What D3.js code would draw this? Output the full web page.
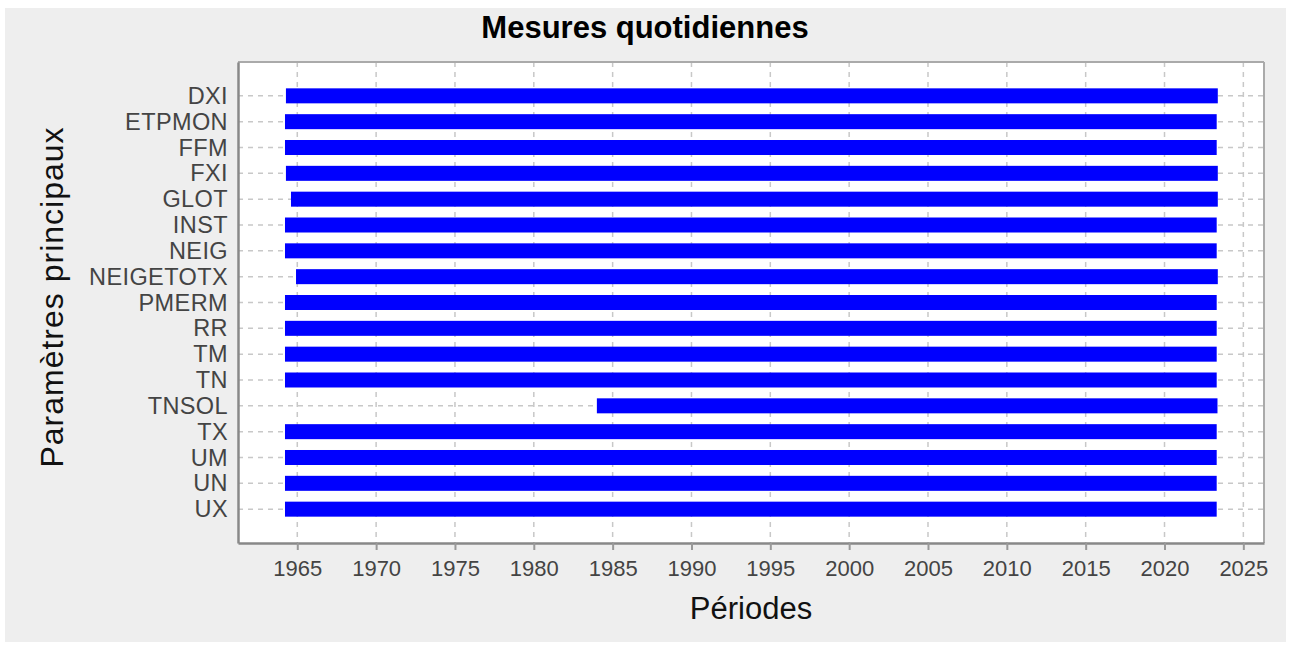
<!DOCTYPE html>
<html>
<head>
<meta charset="utf-8">
<script src="https://cdn.jsdelivr.net/npm/d3@7"></script>
<style>
  html, body { margin: 0; padding: 0; background: #ffffff; }
  svg { display: block; }
  text { font-family: "Liberation Sans", Arial, sans-serif; }
</style>
</head>
<body>
<svg id="chart" width="1289" height="645"></svg>
<script>
// ---- data ----
const categories = ["DXI", "ETPMON", "FFM", "FXI", "GLOT", "INST", "NEIG", "NEIGETOTX",
  "PMERM", "RR", "TM", "TN", "TNSOL", "TX", "UM", "UN", "UX"];
const startYears = [1964.28, 1964.22, 1964.22, 1964.28, 1964.60, 1964.22, 1964.22, 1964.92,
  1964.22, 1964.22, 1964.22, 1964.22, 1984.00, 1964.22, 1964.22, 1964.22, 1964.22];
const endYears = [2023.38, 2023.31, 2023.31, 2023.38, 2023.38, 2023.31, 2023.31, 2023.38,
  2023.31, 2023.31, 2023.31, 2023.31, 2023.36, 2023.31, 2023.31, 2023.31, 2023.31];
const xTicks = [1965, 1970, 1975, 1980, 1985, 1990, 1995, 2000, 2005, 2010, 2015, 2020, 2025];
const xDomain = [1961.24, 2026.31];
const titleText = "Mesures quotidiennes";
const xLabel = "Périodes";
const yLabel = "Paramètres principaux";

// ---- layout ----
const plot = { left: 238, top: 62, right: 1264, bottom: 543 };
const svg = d3.select("#chart");

svg.append("rect").attr("x", 5).attr("y", 8).attr("width", 1281).attr("height", 634)
  .attr("fill", "#eeeeee");

svg.append("rect").attr("x", plot.left).attr("y", plot.top)
  .attr("width", plot.right - plot.left).attr("height", plot.bottom - plot.top)
  .attr("fill", "#ffffff");

const x = d3.scaleLinear().domain(xDomain).range([plot.left, plot.right]);
const y = d3.scalePoint().domain(categories).range([plot.top, plot.bottom]).padding(1.31);

const data = categories.map((c, i) => ({ cat: c, start: startYears[i], end: endYears[i] }));

// gridlines
const grid = svg.append("g").attr("stroke", "#c8c8c8").attr("stroke-width", 1.5)
  .attr("stroke-dasharray", "5,5");
grid.selectAll("line.v").data(xTicks).join("line").attr("class", "v")
  .attr("x1", d => x(d)).attr("x2", d => x(d))
  .attr("y1", plot.top).attr("y2", plot.bottom);
grid.selectAll("line.h").data(categories).join("line").attr("class", "h")
  .attr("x1", plot.left).attr("x2", plot.right)
  .attr("y1", d => y(d)).attr("y2", d => y(d));

// bars
const barH = 15;
svg.append("g").selectAll("rect").data(data).join("rect")
  .attr("x", d => x(d.start))
  .attr("width", d => x(d.end) - x(d.start))
  .attr("y", d => y(d.cat) - barH / 2)
  .attr("height", barH)
  .attr("fill", "#0000ff");

// plot outline
svg.append("line").attr("x1", plot.left).attr("x2", plot.right).attr("y1", plot.top).attr("y2", plot.top)
  .attr("stroke", "#aaaaaa").attr("stroke-width", 2);
svg.append("line").attr("x1", plot.right).attr("x2", plot.right).attr("y1", plot.top).attr("y2", plot.bottom)
  .attr("stroke", "#aaaaaa").attr("stroke-width", 2);

// x axis
const xAxis = d3.axisBottom(x).tickValues(xTicks).tickFormat(d3.format("d"))
  .tickSizeInner(7).tickSizeOuter(0).tickPadding(10);
const gx = svg.append("g").attr("transform", `translate(0,${plot.bottom})`).call(xAxis);
gx.select(".domain").attr("stroke", "#888888").attr("stroke-width", 2.5);
gx.selectAll(".tick line").attr("stroke", "#999999").attr("stroke-width", 2);
gx.selectAll(".tick text").attr("fill", "#444444").style("font-size", "22px")
  .attr("font-family", "Liberation Sans, Arial, sans-serif");

// y axis
const yAxis = d3.axisLeft(y).tickSize(0).tickPadding(10);
const gy = svg.append("g").attr("transform", `translate(${plot.left},0)`).call(yAxis);
gy.select(".domain").attr("stroke", "#888888").attr("stroke-width", 2.5);
gy.selectAll(".tick text").attr("fill", "#444444").style("font-size", "23.5px")
  .style("letter-spacing", "0.4px")
  .attr("font-family", "Liberation Sans, Arial, sans-serif");

// titles
svg.append("text").attr("x", 645).attr("y", 38).attr("text-anchor", "middle")
  .style("font-size", "31px").style("font-weight", "bold").attr("fill", "#000000")
  .text(titleText);
svg.append("text").attr("x", (plot.left + plot.right) / 2).attr("y", 619)
  .attr("text-anchor", "middle").style("font-size", "31px").attr("fill", "#111111")
  .text(xLabel);
svg.append("text").attr("transform", "translate(63,297) rotate(-90)")
  .attr("text-anchor", "middle").style("font-size", "32px").style("letter-spacing", "1px")
  .attr("fill", "#111111")
  .text(yLabel);
</script>
</body>
</html>
